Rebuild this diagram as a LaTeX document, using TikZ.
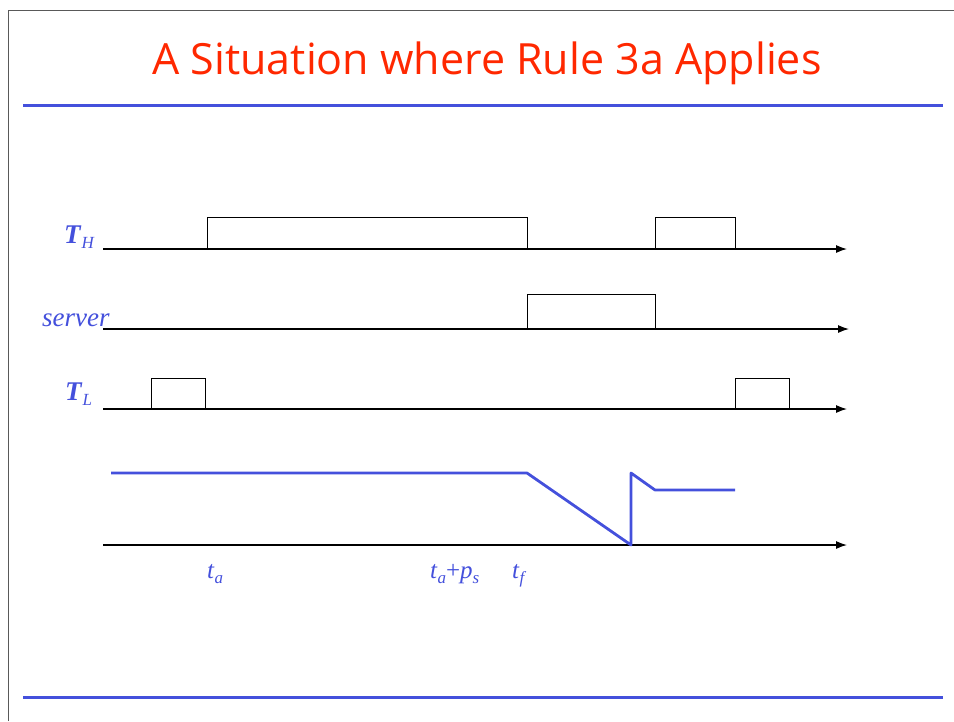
\documentclass[tikz,border=0pt]{standalone}
\usepackage{fontspec}
\setmainfont{Liberation Serif}
\newfontfamily\titlefont{Open Sans}
\usetikzlibrary{arrows.meta}
\definecolor{slideblue}{RGB}{68,80,220}
\definecolor{titlered}{RGB}{255,40,0}
\newcommand{\lowsub}[1]{\raisebox{-0.22em}{\fontsize{17}{17}\selectfont\textit{#1}}}
\begin{document}
\begin{tikzpicture}[x=1pt,y=-1pt,
  axis/.style={-{Latex[length=11pt,width=8pt]},line width=1.2pt},
  job/.style={draw,line width=1pt},
  lbl/.style={text=slideblue,font=\fontsize{27}{30}\selectfont,inner sep=0pt,anchor=base west},
  tlbl/.style={text=slideblue,font=\fontsize{25}{28}\selectfont,inner sep=0pt,anchor=base west}]
\useasboundingbox (0,0) rectangle (954,721);
\draw[black!65,line width=1.2pt] (8.5,721) -- (8.5,10.5) -- (954,10.5);
\node[font=\titlefont\fontsize{43}{48}\selectfont,text=titlered,anchor=base] (title) at (487,74) {A Situation where Rule 3a Applies};
\draw[slideblue,line width=2.5pt] (23,105.5) -- (943,105.5);
\draw[slideblue,line width=2.5pt] (23,697.5) -- (943,697.5);
\coordinate (h0) at (103,249);
\coordinate (h1) at (847,249);
\coordinate (s0) at (103,329);
\coordinate (s1) at (849,329);
\coordinate (l0) at (103,409);
\coordinate (l1) at (847,409);
\coordinate (x0) at (103,545);
\coordinate (x1) at (847,545);
\draw[axis] (h0) -- (h1);
\draw[axis] (s0) -- (s1);
\draw[axis] (l0) -- (l1);
\draw[axis] (x0) -- (x1);
\draw[job] (207,249) rectangle (527,217);
\draw[job] (655,249) rectangle (735,217);
\draw[job] (527,329) rectangle (655,294);
\draw[job] (151,409) rectangle (205,378);
\draw[job] (735,409) rectangle (789,378);
\draw[slideblue,line width=2.8pt,line join=round] (111,473) -- (527,473) -- (631,545) -- (631,473) -- (655,490) -- (735,490);
\node[lbl] (th) at (64,243) {\textbf{\textit{T}}\lowsub{H}};
\node[lbl] (srv) at (42,326) {\textit{server}};
\node[lbl] (tl) at (65,400) {\textbf{\textit{T}}\lowsub{L}};
\node[tlbl] (ta) at (207,578) {\textit{t}\lowsub{a}};
\node[tlbl] (taps) at (430,578) {\textit{t}\lowsub{a}+\textit{p}\lowsub{s}};
\node[tlbl] (tf) at (512,578) {\textit{t}\lowsub{f}};
\end{tikzpicture}
\end{document}
